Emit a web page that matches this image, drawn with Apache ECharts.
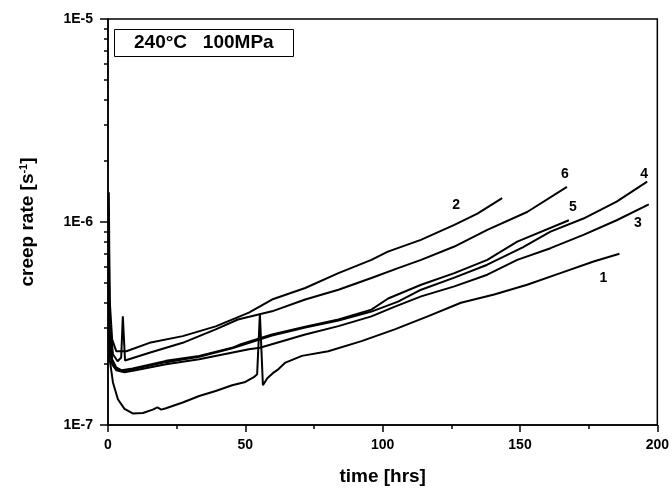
<!DOCTYPE html>
<html><head><meta charset="utf-8">
<script src="https://cdn.jsdelivr.net/npm/echarts@6/dist/echarts.min.js"></script>
<style>html,body{margin:0;padding:0;background:#fff;}#c{width:672px;height:491px;}</style>
</head><body><div id="c"></div>
<script>
// ---- data ----
const curveNames = ['1', '2', '3', '4', '5', '6'];
const xTicks = [0, 50, 100, 150, 200];
const yTickLabels = ['1E-7', '1E-6', '1E-5'];

const time1 = [0.3, 0.6, 1.8, 3.6, 6, 9, 12.7, 16.3, 18, 19.4, 21.1, 27.2, 33.2, 39.2, 45.2, 50, 53.1, 54.3, 55.3, 56.4, 58, 60, 62, 64.6, 70.6, 80.2, 92.3, 104.4, 116.4, 128.5, 140.6, 152.6, 164.7, 176.8, 186.2];
const rate1 = [4.2e-7, 2.11e-7, 1.62e-7, 1.34e-7, 1.20e-7, 1.14e-7, 1.145e-7, 1.19e-7, 1.22e-7, 1.19e-7, 1.21e-7, 1.29e-7, 1.39e-7, 1.47e-7, 1.57e-7, 1.63e-7, 1.72e-7, 1.78e-7, 3.54e-7, 1.57e-7, 1.70e-7, 1.80e-7, 1.88e-7, 2.03e-7, 2.19e-7, 2.31e-7, 2.59e-7, 2.96e-7, 3.43e-7, 4.0e-7, 4.39e-7, 4.91e-7, 5.6e-7, 6.39e-7, 6.97e-7];

const time2 = [0.3, 0.6, 1.5, 3, 6.7, 15.1, 27.2, 39.2, 51.3, 59.7, 71.8, 83.9, 95.9, 101.9, 113.9, 126.1, 134.5, 143.5];
const rate2 = [1.40e-6, 4.15e-7, 2.64e-7, 2.31e-7, 2.31e-7, 2.54e-7, 2.74e-7, 3.06e-7, 3.58e-7, 4.15e-7, 4.73e-7, 5.6e-7, 6.51e-7, 7.15e-7, 8.16e-7, 9.67e-7, 1.10e-6, 1.31e-6];

const time3 = [0.3, 0.6, 1.5, 3, 6, 10, 21.1, 33.2, 51.3, 55.3, 71.8, 83.9, 95.9, 104, 114, 126.1, 138.1, 149, 161.1, 173.1, 185.2, 196.9];
const rate3 = [5.0e-7, 2.5e-7, 1.99e-7, 1.86e-7, 1.82e-7, 1.86e-7, 1.99e-7, 2.11e-7, 2.36e-7, 2.40e-7, 2.79e-7, 3.07e-7, 3.43e-7, 3.81e-7, 4.30e-7, 4.82e-7, 5.50e-7, 6.51e-7, 7.43e-7, 8.64e-7, 1.02e-6, 1.22e-6];

const time4 = [0.3, 0.6, 1.5, 3, 5, 9, 21.1, 33.2, 45.2, 59.7, 71.8, 83.9, 95.9, 105.6, 114, 126.1, 138.1, 151, 161.1, 173.1, 185.2, 196.3];
const rate4 = [6.0e-7, 2.64e-7, 2.04e-7, 1.88e-7, 1.84e-7, 1.88e-7, 2.04e-7, 2.17e-7, 2.39e-7, 2.76e-7, 3.02e-7, 3.27e-7, 3.62e-7, 4.05e-7, 4.64e-7, 5.32e-7, 6.16e-7, 7.5e-7, 8.97e-7, 1.04e-6, 1.26e-6, 1.58e-6];

const time5 = [0.3, 0.6, 1.5, 3, 5, 9, 21.1, 33.2, 45.2, 48.4, 59.7, 71.8, 83.9, 95.9, 102, 114, 126.1, 138.1, 149, 167.8];
const rate5 = [7.0e-7, 2.96e-7, 2.11e-7, 1.92e-7, 1.86e-7, 1.90e-7, 2.07e-7, 2.19e-7, 2.40e-7, 2.50e-7, 2.79e-7, 3.05e-7, 3.31e-7, 3.70e-7, 4.2e-7, 4.91e-7, 5.6e-7, 6.51e-7, 8.0e-7, 1.02e-6];

const time6 = [0.3, 0.6, 1.8, 3.5, 4.8, 5.4, 6.2, 6.7, 15.1, 27.2, 39.2, 47.3, 59.7, 71.8, 83.9, 95.9, 105.6, 114, 126.1, 138.1, 152.6, 167.1];
const rate6 = [9.0e-7, 3.31e-7, 2.23e-7, 2.06e-7, 2.15e-7, 3.43e-7, 2.08e-7, 2.07e-7, 2.27e-7, 2.54e-7, 2.96e-7, 3.31e-7, 3.63e-7, 4.15e-7, 4.64e-7, 5.30e-7, 5.93e-7, 6.51e-7, 7.57e-7, 9.14e-7, 1.12e-6, 1.49e-6];

const times = [time1, time2, time3, time4, time5, time6];
const rates = [rate1, rate2, rate3, rate4, rate5, rate6];

// ---- styling ----
const FONT = '"Liberation Sans", Arial, sans-serif';
const labelOffsets = [[-16, 24], [-46, 7], [-11, 19], [-3, -8], [4, -13], [-2, -13]];

// minor tick positions of the log axis (2..9 per decade), in exponent space
const minorLogTicks = [];
for (let d = -7; d < -5; d++) for (let m = 2; m <= 9; m++) minorLogTicks.push(d + Math.log10(m));

const series = curveNames.map((name, i) => ({
  name: name,
  type: 'line',
  xAxisIndex: 0,
  yAxisIndex: 0,
  showSymbol: false,
  symbol: 'none',
  animation: false,
  lineStyle: { color: '#000', width: 2 },
  itemStyle: { color: '#000' },
  data: times[i].map((t, k) => [t, rates[i][k]]),
  endLabel: {
    show: true,
    formatter: name,
    distance: 0,
    align: 'center',
    verticalAlign: 'middle',
    offset: labelOffsets[i],
    fontFamily: FONT, fontSize: 14, fontWeight: 'bold', color: '#000'
  }
}));

const chart = echarts.init(document.getElementById('c'), null, { renderer: 'canvas' });
chart.setOption({
  animation: false,
  backgroundColor: '#fff',
  title: {
    text: '240°C   100MPa',
    left: 114, top: 29,
    padding: [4, 20, 4, 20],
    borderColor: '#000', borderWidth: 1,
    textStyle: { fontFamily: FONT, fontSize: 19, fontWeight: 'bold', color: '#000', lineHeight: 20 }
  },
  grid: {
    left: 108, right: 11, top: 19, bottom: 65,
    show: true, borderColor: '#000', borderWidth: 1.5, backgroundColor: 'transparent'
  },
  xAxis: {
    type: 'value', min: xTicks[0], max: xTicks[xTicks.length - 1], interval: 50,
    name: 'time [hrs]', nameLocation: 'middle', nameGap: 42,
    nameTextStyle: { fontFamily: FONT, fontSize: 19, fontWeight: 'bold', color: '#000' },
    axisLine: { show: true, lineStyle: { color: '#000', width: 1.5 } },
    axisTick: { show: true, inside: false, length: 7, lineStyle: { color: '#000', width: 1.5 } },
    minorTick: { show: true, splitNumber: 2, length: 4, lineStyle: { color: '#000', width: 1.5 } },
    axisLabel: { margin: 13, fontFamily: FONT, fontSize: 14, fontWeight: 'bold', color: '#000' },
    splitLine: { show: false }
  },
  yAxis: [{
    type: 'log', logBase: 10, min: 1e-7, max: 1e-5,
    name: 'creep rate [s{sup|-1}]', nameLocation: 'middle', nameGap: 71, nameRotate: 90,
    nameTextStyle: {
      fontFamily: FONT, fontSize: 19, fontWeight: 'bold', color: '#000',
      rich: { sup: { fontFamily: FONT, fontSize: 11, fontWeight: 'bold', color: '#000', verticalAlign: 'top', padding: [0, 0, 6, 0] } }
    },
    axisLine: { show: true, lineStyle: { color: '#000', width: 1.5 } },
    axisTick: { show: true, inside: false, length: 8, lineStyle: { color: '#000', width: 1.5 } },
    axisLabel: {
      margin: 15, fontFamily: FONT, fontSize: 14, fontWeight: 'bold', color: '#000',
      formatter: v => yTickLabels[Math.round(Math.log10(v)) + 7]
    },
    splitLine: { show: false }
  }, {
    type: 'value', min: -7, max: -5, position: 'left', offset: 0,
    axisLine: { show: false },
    axisLabel: { show: false },
    axisTick: { show: true, inside: false, length: 4, customValues: minorLogTicks, lineStyle: { color: '#000', width: 1.5 } },
    splitLine: { show: false }
  }],
  series: series
});
</script>
</body></html>
